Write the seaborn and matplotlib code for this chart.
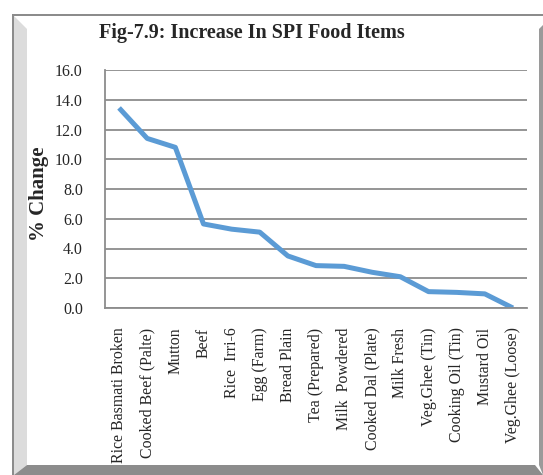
import matplotlib
matplotlib.use('Agg')
import matplotlib.pyplot as plt
import matplotlib.ticker as mticker
import numpy as np
import seaborn as sns

items = ['Rice Basmati Broken', 'Cooked Beef (Palte)', 'Mutton', 'Beef',
         'Rice  Irri-6', 'Egg (Farm)', 'Bread Plain', 'Tea (Prepared)',
         'Milk  Powdered', 'Cooked Dal (Plate)', 'Milk Fresh',
         'Veg.Ghee (Tin)', 'Cooking Oil (Tin)', 'Mustard Oil', 'Veg.Ghee (Loose)']
change = [13.45, 11.4, 10.8, 5.65, 5.3, 5.1, 3.5, 2.85, 2.8, 2.4, 2.1,
          1.1, 1.05, 0.95, 0.0]
yticks = [0, 2, 4, 6, 8, 10, 12, 14, 16]

sns.set_style('white')
plt.rcParams['font.family'] = ['Liberation Serif', 'DejaVu Serif']

W, H = 543, 475
fig = plt.figure(figsize=(W / 100, H / 100), dpi=100)


def fx(x):
    return x / W


def fy(y):
    return 1 - y / H


# bevelled frame around the chart
def poly(pts, color):
    p = plt.Polygon([(fx(x), fy(y)) for x, y in pts], closed=True,
                    transform=fig.transFigure, facecolor=color,
                    edgecolor='none', zorder=-1)
    fig.patches.append(p)


poly([(12, 14), (543, 14), (543, 16), (12, 16)], '#8c8c8c')
poly([(12, 14), (14, 14), (14, 475), (12, 475)], '#8c8c8c')
poly([(14, 16), (27, 29), (27, 465), (14, 475)], '#dcdcdc')
poly([(14, 475), (27, 465), (535, 465), (543, 475)], '#8c8c8c')
poly([(539, 29), (543, 25), (543, 475), (539, 465)], '#9a9a9a')

ax = fig.add_axes([fx(105), fy(308), fx(527) - fx(105), fy(70) - fy(308)])
sns.lineplot(x=items, y=change, sort=False, ax=ax, color='#5b9bd5',
             linewidth=3.6, solid_capstyle='butt')

ax.set_xlim(-0.5, len(items) - 0.5)
ax.set_ylim(0, 16)
ax.set_yticks(yticks)
ax.yaxis.set_major_formatter(mticker.FormatStrFormatter('%.1f'))
ax.grid(axis='y', color='#8c8c8c', linewidth=1.3)
ax.grid(axis='x', visible=False)
ax.set_axisbelow(True)
for s in ['top', 'right']:
    ax.spines[s].set_visible(False)
for s in ['left', 'bottom']:
    ax.spines[s].set_color('#8c8c8c')
    ax.spines[s].set_linewidth(1.3)

ax.set_xticks(range(len(items)))
ax.set_xticklabels(items, rotation=90, fontsize=11.4)
ax.set_xticks(np.arange(-0.5, len(items)), minor=True)
ax.tick_params(axis='x', which='major', length=0, pad=14)
ax.tick_params(axis='x', which='minor', length=4, color='#8c8c8c', width=1)
ax.tick_params(axis='y', length=6, color='#8c8c8c', width=1.3,
               labelsize=11.5, pad=10)

ax.set_ylabel('')
ax.set_xlabel('')
fig.text(fx(39), fy(194), '% Change', rotation=90, ha='center', va='center',
         fontsize=15, fontweight='bold')
fig.text(fx(252), fy(33), 'Fig-7.9: Increase In SPI Food Items', ha='center',
         va='center', fontsize=14.5, fontweight='bold')

fig.savefig('out.png', dpi=100)
